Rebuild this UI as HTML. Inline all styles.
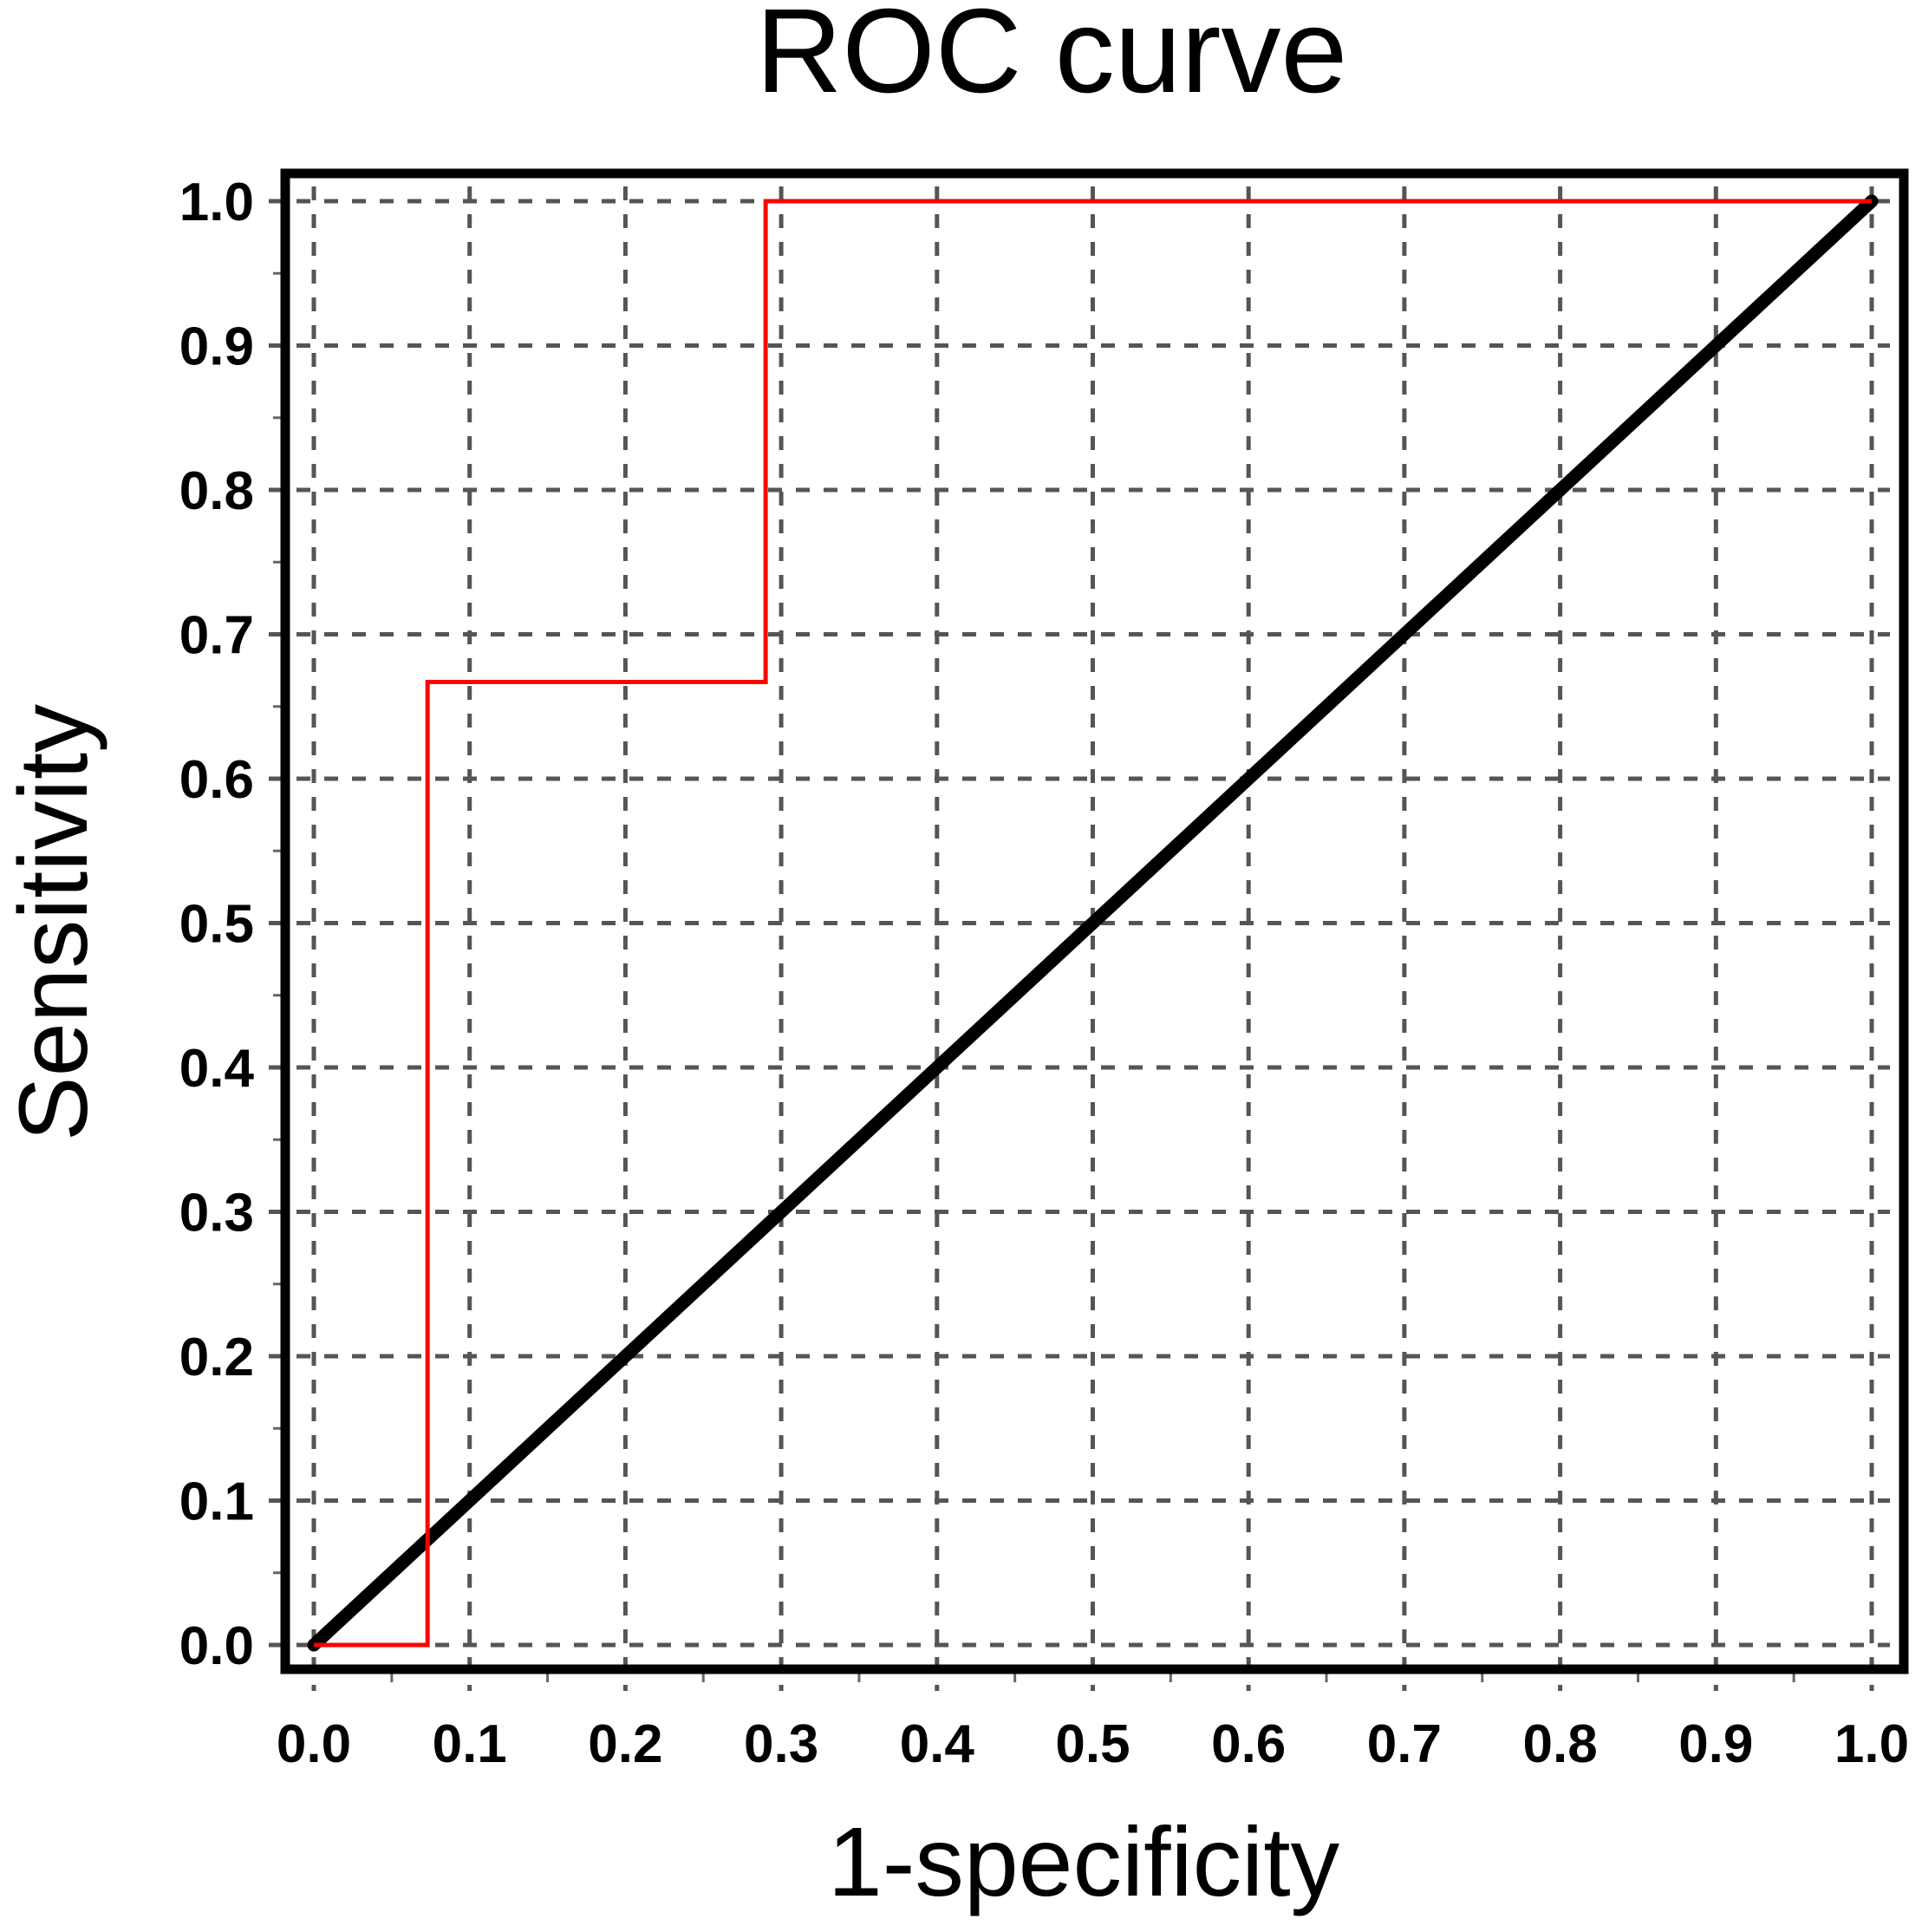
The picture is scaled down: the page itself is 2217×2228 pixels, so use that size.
<!DOCTYPE html>
<html><head><meta charset="utf-8"><style>
html,body{margin:0;padding:0;background:#fff;}
svg{display:block;font-family:"Liberation Sans",Arial,sans-serif;}
</style></head><body>
<svg id="chart" width="2217" height="2228" viewBox="0 0 2217 2228">
<text x="1213" y="106" font-size="138" text-anchor="middle">ROC curve</text>
<g id="grid"></g>
<g id="ticks"></g>
<g id="series"></g>
<rect x="329" y="200" width="1867" height="1725" fill="none" stroke="#000" stroke-width="11"/>
<text x="1250" y="2186" font-size="113" text-anchor="middle">1-specificity</text>
<text transform="translate(100,1064) rotate(-90)" font-size="112" text-anchor="middle">Sensitivity</text>
</svg>
<script>
const xTicks = [0,0.1,0.2,0.3,0.4,0.5,0.6,0.7,0.8,0.9,1.0];
const yTicks = [0,0.1,0.2,0.3,0.4,0.5,0.6,0.7,0.8,0.9,1.0];
const rocX = [0,0.073,0.073,0.29,0.29,1.0];
const rocY = [0,0,0.667,0.667,1.0,1.0];
const refX = [0,1];
const refY = [0,1];
const X0=362,X1=2159,Y0=1897,Y1=232;
function sx(v){return X0+(X1-X0)*v;}
function sy(v){return Y0+(Y1-Y0)*v;}
const NS="http://www.w3.org/2000/svg";
function mk(tag,attrs,parent){const e=document.createElementNS(NS,tag);for(const k in attrs)e.setAttribute(k,attrs[k]);parent.appendChild(e);return e;}
const grid=document.getElementById('grid'),ticks=document.getElementById('ticks'),series=document.getElementById('series');
xTicks.forEach(function(v){
  const l=mk('line',{x1:sx(v),x2:sx(v),y1:215,y2:1950,stroke:'#555','stroke-width':5,'stroke-dasharray':'16,16'},grid);
  
  
  const t=mk('text',{x:sx(v),y:2032,'font-size':62,'font-weight':'bold','text-anchor':'middle'},ticks);
  t.textContent=v.toFixed(1);
  
  
});
yTicks.forEach(function(v){
  const l=mk('line',{x1:310,x2:2180,y1:sy(v),y2:sy(v),stroke:'#555','stroke-width':5,'stroke-dasharray':'16,16'},grid);
  
  
  const t=mk('text',{x:293,y:sy(v)+22,'font-size':62,'font-weight':'bold','text-anchor':'end'},ticks);
  t.textContent=v.toFixed(1);
  
  
});
for(let i=0;i<20;i++){
  const v=0.05+i*0.1; if(v>1)break;
  const a=mk('line',{x1:sx(v),x2:sx(v),y1:1925,y2:1940,stroke:'#666','stroke-width':3},ticks);
  
  
  const b=mk('line',{x1:315,x2:329,y1:sy(v),y2:sy(v),stroke:'#666','stroke-width':3},ticks);
  
  
}
const ref=mk('polyline',{points:refX.map(function(v,i){return sx(v)+','+sy(refY[i]);}).join(' '),fill:'none',stroke:'#000','stroke-width':15,'stroke-linecap':'round'},series);


const roc=mk('polyline',{points:rocX.map(function(v,i){return sx(v)+','+sy(rocY[i]);}).join(' '),fill:'none',stroke:'#f00','stroke-width':5},series);


</script>
</body></html>
